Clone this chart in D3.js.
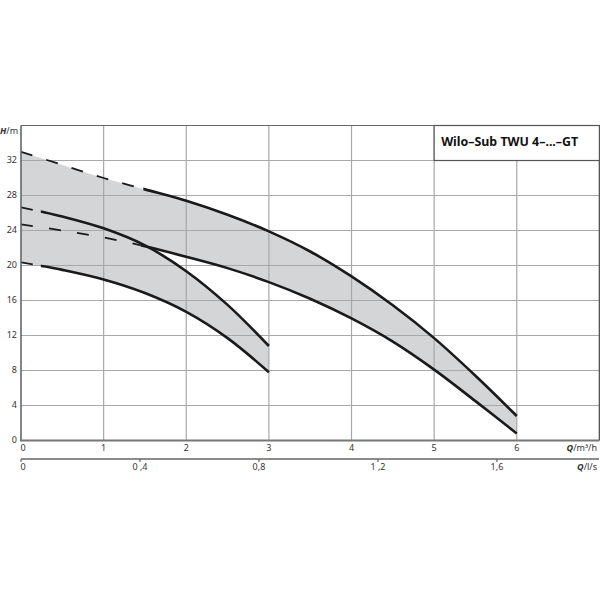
<!DOCTYPE html>
<html>
<head>
<meta charset="utf-8">
<script src="https://cdn.jsdelivr.net/npm/d3@7"></script>
<style>
  body { margin: 0; background: #fff; }
  svg text { font-family: "Noto Sans", "DejaVu Sans", sans-serif; fill: #333; white-space: pre; }
</style>
</head>
<body>
<div id="chart"></div>
<script>
// flow Q in m³/h, head H in m
const qLarge = [0, 0.5, 1, 1.5, 2, 2.5, 3, 3.5, 4, 4.5, 5, 5.5, 6]
const hLargeMax = [33.0, 31.5, 30.0, 28.7, 27.4, 25.8, 23.9, 21.6, 18.75, 15.45, 11.7, 7.4, 2.8]
const hLargeMin = [24.7, 24.0, 23.2, 22.2, 21.0, 19.7, 18.1, 16.2, 13.95, 11.3, 8.1, 4.5, 0.8]
const qSmall = [0, 0.25, 0.5, 1, 1.5, 2, 2.5, 3]
const hSmallMax = [26.65, 26.15, 25.6, 24.25, 22.3, 19.35, 15.5, 10.8]
const hSmallMin = [20.35, 19.95, 19.5, 18.4, 16.85, 14.7, 11.7, 7.8]
// where the dashed part of each curve ends
const dashEnd = { largeMax: 1.48, largeMin: 1.45, smallMax: 0.24, smallMin: 0.24 }

const qTicks = [0, 1, 2, 3, 4, 5, 6]
const hTicks = [0, 4, 8, 12, 16, 20, 24, 28, 32]
const lsTicks = [0, 0.4, 0.8, 1.2, 1.6]
const lsLabels = ["0", "0 ,4", "0,8", "1 ,2", "1,6"]
const title = "Wilo–Sub TWU 4–...–GT"

let width = 600, height = 600
let x = d3.scaleLinear().domain([0, 7]).range([21, 599.4])
let xls = d3.scaleLinear().domain([0, 7 / 3.6]).range([21, 599.4])
let y = d3.scaleLinear().domain([0, 36]).range([440.5, 125.5])

let svg = d3.select('#chart').append('svg')
    .attr('width', width)
    .attr('height', height)

let defs = svg.append('defs')

function pts(qs, hs) { return qs.map((q, i) => [q, hs[i]]) }

let smooth = d3.curveCatmullRom.alpha(0.5)

let line = d3.line()
    .x(d => x(d[0]))
    .y(d => y(d[1]))
    .curve(smooth)

let area = d3.area()
    .x(d => x(d.q))
    .y0(d => y(d.lo))
    .y1(d => y(d.hi))
    .curve(smooth)

// shaded bands
let bands = [
    qLarge.map((q, i) => ({ q: q, lo: hLargeMin[i], hi: hLargeMax[i] })),
    qSmall.map((q, i) => ({ q: q, lo: hSmallMin[i], hi: hSmallMax[i] }))
]
svg.selectAll('path.band')
    .data(bands)
    .join('path')
    .attr('class', 'band')
    .attr('d', area)
    .attr('fill', '#d4d5d7')

// grid
svg.selectAll('line.vgrid')
    .data(qTicks.slice(1))
    .join('line')
    .attr('x1', d => x(d)).attr('x2', d => x(d))
    .attr('y1', y(36)).attr('y2', y(0))
    .attr('stroke', '#a8a8a8').attr('stroke-width', 1.2)

svg.selectAll('line.hgrid')
    .data(hTicks.slice(1))
    .join('line')
    .attr('x1', x(0)).attr('x2', x(7))
    .attr('y1', d => y(d)).attr('y2', d => y(d))
    .attr('stroke', '#a8a8a8').attr('stroke-width', 1.2)

// curves: dashed start, solid rest
let curves = [
    { key: 'largeMax', data: pts(qLarge, hLargeMax), dash: '12,14.5' },
    { key: 'largeMin', data: pts(qLarge, hLargeMin), dash: '12,16.3' },
    { key: 'smallMax', data: pts(qSmall, hSmallMax), dash: '12,40' },
    { key: 'smallMin', data: pts(qSmall, hSmallMin), dash: '12,40' }
]

curves.forEach(c => {
    let split = x(dashEnd[c.key])
    defs.append('clipPath').attr('id', 'dash-' + c.key)
        .append('rect').attr('x', x(0)).attr('y', 0).attr('width', split - x(0)).attr('height', height)
    defs.append('clipPath').attr('id', 'solid-' + c.key)
        .append('rect').attr('x', split).attr('y', 0).attr('width', width - split).attr('height', height)

    svg.append('path')
        .attr('d', line(c.data))
        .attr('fill', 'none')
        .attr('stroke', '#1a1a1a')
        .attr('stroke-width', 1.8)
        .attr('stroke-dasharray', c.dash)
        .attr('clip-path', `url(#dash-${c.key})`)

    svg.append('path')
        .attr('d', line(c.data))
        .attr('fill', 'none')
        .attr('stroke', '#1a1a1a')
        .attr('stroke-width', 2.6)
        .attr('clip-path', `url(#solid-${c.key})`)
})

// frame
svg.append('line').attr('x1', x(0)).attr('x2', x(7)).attr('y1', y(36)).attr('y2', y(36))
    .attr('stroke', '#666').attr('stroke-width', 1.2)
svg.append('line').attr('x1', x(7)).attr('x2', x(7)).attr('y1', y(36)).attr('y2', y(0))
    .attr('stroke', '#555').attr('stroke-width', 1.4)
svg.append('line').attr('x1', x(0)).attr('x2', x(0)).attr('y1', y(36)).attr('y2', y(0))
    .attr('stroke', '#666').attr('stroke-width', 1.6)
svg.append('line').attr('x1', x(0) - 1).attr('x2', x(7)).attr('y1', y(0)).attr('y2', y(0))
    .attr('stroke', '#777').attr('stroke-width', 2)

// title box
svg.append('rect')
    .attr('x', x(5)).attr('y', y(36))
    .attr('width', x(7) - x(5)).attr('height', y(32) - y(36))
    .attr('fill', '#fff').attr('stroke', '#555').attr('stroke-width', 1.2)
svg.append('text')
    .attr('x', x(5) + 7).attr('y', y(34))
    .attr('dominant-baseline', 'middle')
    .attr('font-size', 12.4).attr('font-weight', 'bold')
    .style('fill', '#111')
    .text(title)

// y labels
svg.selectAll('text.ylab')
    .data(hTicks)
    .join('text')
    .attr('x', 17).attr('y', d => y(d))
    .attr('text-anchor', 'end').attr('dominant-baseline', 'middle')
    .attr('font-size', 9)
    .text(d => d)

let hLab = svg.append('text').attr('x', 0).attr('y', 132)
    .attr('dominant-baseline', 'middle').attr('font-size', 9)
hLab.append('tspan').attr('font-weight', 'bold').attr('font-style', 'italic').text('H')
hLab.append('tspan').text('/m')

// Q m³/h labels
svg.selectAll('text.qlab')
    .data(qTicks)
    .join('text')
    .attr('x', d => x(d) + (d === 0 ? 2 : 0)).attr('y', 449)
    .attr('text-anchor', 'middle').attr('dominant-baseline', 'middle')
    .attr('font-size', 9)
    .text(d => d)

let qLab = svg.append('text').attr('x', 597).attr('y', 449)
    .attr('text-anchor', 'end').attr('dominant-baseline', 'middle').attr('font-size', 9)
qLab.append('tspan').attr('font-weight', 'bold').attr('font-style', 'italic').text('Q')
qLab.append('tspan').text('/m³/h')

// l/s axis
svg.append('line').attr('x1', xls(0)).attr('x2', 599).attr('y1', 459).attr('y2', 459)
    .attr('stroke', '#666').attr('stroke-width', 1.3)
svg.selectAll('line.lstick')
    .data(lsTicks)
    .join('line')
    .attr('x1', d => xls(d)).attr('x2', d => xls(d))
    .attr('y1', 459).attr('y2', 462)
    .attr('stroke', '#666').attr('stroke-width', 1.2)
svg.selectAll('text.lslab')
    .data(lsTicks)
    .join('text')
    .attr('x', d => xls(d) + (d === 0 ? 2 : 0)).attr('y', 468)
    .attr('text-anchor', 'middle').attr('dominant-baseline', 'middle')
    .attr('font-size', 9)
    .text((d, i) => lsLabels[i])

let lsLab = svg.append('text').attr('x', 597).attr('y', 468)
    .attr('text-anchor', 'end').attr('dominant-baseline', 'middle').attr('font-size', 9)
lsLab.append('tspan').attr('font-weight', 'bold').attr('font-style', 'italic').text('Q')
lsLab.append('tspan').text('/l/s')
</script>
</body>
</html>
